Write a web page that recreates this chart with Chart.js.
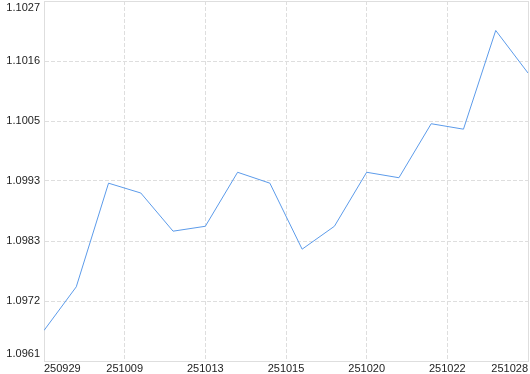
<!DOCTYPE html>
<html>
<head>
<meta charset="utf-8">
<script src="https://cdn.jsdelivr.net/npm/chart.js@4.4.1/dist/chart.umd.min.js"></script>
<style>
    html, body { margin: 0; padding: 0; background: #fff; }
    #wrap { width: 530px; height: 374px; }
</style>
</head>
<body>
<div id="wrap"><canvas id="rateChart" width="530" height="374"></canvas></div>
<script>
const closeValues = [
    1.09666, 1.09746, 1.09936, 1.09918, 1.09848, 1.09857, 1.09956, 1.09936,
    1.09815, 1.09857, 1.09956, 1.09946, 1.10045, 1.10035, 1.10216, 1.10138
];
const xTickLabels = ['250929', '251009', '251013', '251015', '251020', '251022', '251028'];
const yTickLabels = ['1.0961', '1.0972', '1.0983', '1.0993', '1.1005', '1.1016', '1.1027'];
const yMin = 1.0961;
const yMax = 1.1027;

const gridColor = '#dedede';
const textColor = '#222';
const lineColor = '#5c9bea';

// solid line on the outer ticks, dashed inside
function dashFor(ctx, count) {
    if (ctx.index === 0 || ctx.index === count - 1) return [];
    return [4, 2];
}

new Chart(document.getElementById('rateChart'), {
    type: 'line',
    data: {
        datasets: [{
            data: closeValues.map((v, i) => ({ x: i, y: v })),
            borderColor: lineColor,
            borderWidth: 1,
            pointRadius: 0,
            tension: 0,
            fill: false
        }]
    },
    options: {
        responsive: false,
        animation: false,
        layout: { padding: { top: 1, right: 2, left: 0, bottom: 0 } },
        plugins: {
            legend: { display: false },
            tooltip: { enabled: false }
        },
        scales: {
            x: {
                type: 'linear',
                min: 0,
                max: closeValues.length - 1,
                afterBuildTicks: scale => {
                    const step = (closeValues.length - 1) / (xTickLabels.length - 1);
                    scale.ticks = xTickLabels.map((_, i) => ({ value: i * step }));
                },
                afterFit: scale => {
                    scale.height = 13;
                    scale.paddingLeft = 0;
                    scale.paddingRight = 0;
                },
                grid: { color: gridColor, drawTicks: false },
                border: {
                    color: gridColor,
                    dash: ctx => dashFor(ctx, xTickLabels.length)
                },
                ticks: {
                    autoSkip: false,
                    maxRotation: 0,
                    align: 'inner',
                    padding: 1,
                    color: textColor,
                    font: { family: 'Liberation Sans', size: 11 },
                    callback: (v, i) => xTickLabels[i]
                }
            },
            y: {
                min: yMin,
                max: yMax,
                afterBuildTicks: scale => {
                    const step = (yMax - yMin) / (yTickLabels.length - 1);
                    scale.ticks = yTickLabels.map((_, i) => ({ value: yMin + i * step }));
                },
                afterFit: scale => {
                    scale.width = 44;
                    scale.paddingTop = 0;
                    scale.paddingBottom = 0;
                },
                grid: { color: gridColor, drawTicks: false },
                border: {
                    color: gridColor,
                    dash: ctx => dashFor(ctx, yTickLabels.length)
                },
                ticks: {
                    padding: 4,
                    color: textColor,
                    font: { family: 'Liberation Sans', size: 11 },
                    // push first/last label inside the plot box
                    callback: (v, i) => {
                        const last = yTickLabels.length - 1;
                        if (i === last) return ['', yTickLabels[i]];
                        if (i === 0) return [yTickLabels[i], ''];
                        return yTickLabels[i];
                    }
                }
            }
        }
    }
});
</script>
</body>
</html>
